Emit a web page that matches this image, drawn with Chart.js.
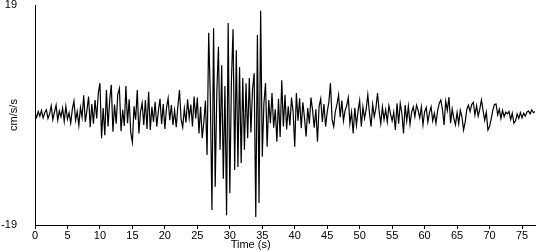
<!DOCTYPE html>
<html>
<head>
<meta charset="utf-8">
<script src="https://cdn.jsdelivr.net/npm/chart.js@4.4.1/dist/chart.umd.min.js"></script>
<style>
  html, body { margin: 0; padding: 0; background: #fff; }
  canvas { display: block; }
</style>
</head>
<body>
<canvas id="quake" width="550" height="250"></canvas>
<script>
// sample step of the record, seconds
const dt = 0.25;
const xTicks = [0, 5, 10, 15, 20, 25, 30, 35, 40, 45, 50, 55, 60, 65, 70, 75];
const yTicks = [-19, 19];
// acceleration, cm/s/s (4 samples per second)
const accel = [
    0.3, -0.4, 0.6, -0.2,   0.8, -0.5, 0.4, 0.9,
    -0.6, 0.2, 1.6, -0.8,   0.5, 1.7, -0.9, 0.7,
    -0.3, 1.2, -1.1, 1.5,   -0.7, 0.4, -1.4, 1.0,
    2.4, -0.9, 0.6, -1.8,   1.3, -0.4, 3.4, -1.2,
    0.8, 3.2, -2.1, 1.9,    -1.5, 2.6, -0.6, 3.8,
    5.5, -4.0, 1.2, -3.5,   4.3, -2.0, 2.5, 5.2,
    -2.9, 1.8, -1.5, 3.6,   4.6, -2.8, 0.9, -1.9,
    5.0, -1.4, 2.7, -3.1,   -4.7, 1.5, -0.8, 4.3,
    -3.2, 0.6, 2.1, -1.7,   2.6, -2.4, 4.0, -2.6,
    1.4, -1.2, 2.3, -2.0,   0.7, 2.8, -1.6, 1.9,
    -2.4, 1.2, 2.9, -0.9,   1.7, -1.7, 0.8, -2.1,
    1.5, 4.3, -0.7, -2.1,   1.1, -1.3, 2.7, -0.5,
    1.8, -2.0, 3.2, -0.6,   3.0, -3.2, 1.4, -4.0,
    // strong motion, 26 s - 37 s
    -1.2, 2.5, -6.9, 14.2,  3.0, -16.4, 15.0, -12.4,
    4.0, 11.8, -6.0, 8.6,   -11.0, 5.0, -17.3, 15.9,
    -13.5, 6.0, 14.8, -9.5, 11.2, -9.0, 8.3, -8.3,
    6.4, -6.0, 5.5, -4.0,   6.4, -3.0, 4.5, 7.2,
    -17.6, 13.8, -15.2, 18.0, -7.2, 2.0, 5.5, -5.5,
    2.6, -1.4, 3.8, -2.2,
    1.0, -4.6, 2.8, -3.8,   6.0, -2.0, 3.5, -2.5,
    1.5, -1.8, 3.0, 0.5,    -5.5, 3.8, -1.0, 2.9,
    -2.3, 2.2, -0.5, -3.7,  1.2, -1.5, 3.0, 0.8,
    -2.2, 1.0, -4.6, 1.5,   2.8, -1.2, 1.9, -2.0,
    0.5, 2.2, 5.5, -0.8,    -2.0, 0.6, 1.8, 3.5,
    -0.4, 2.5, -1.0, 0.8,   1.6, 3.0, -1.5, 0.5,
    -3.2, 1.2, -1.8, 0.7,   2.5, -2.0, 1.4, -0.6,
    1.0, 3.5, 0.4, -2.0,    1.8, -0.3, 1.2, 3.8,
    0.6, -1.5, 1.4, -0.8,   0.9, -1.2, 1.6, 0.2,
    -1.0, 0.5, -2.6, 2.0,   -1.5, 2.0, 0.3, -3.2,
    1.7, -1.0, 1.5, -1.6,   0.5, 1.4, -0.3, 1.7,
    0.8, -0.5, 1.4, -1.7,   0.6, 1.3, -1.2, 0.4,
    1.4, -1.0, 0.3, -1.4,   0.7, 2.0, 2.6, 0.9,
    -1.7, 2.4, 0.8, 3.1,    -1.4, 1.0, -0.6, -1.7,
    0.4, -1.5, 0.8, -0.3,   -2.6, -1.2, 1.0, 1.7,
    0.6, 1.8, 2.2, 0.0,     1.6, -0.2, 1.0, 2.6,
    0.8, -0.9, 0.5, -2.6,   -2.0, -0.7, 0.8, 1.8,
    1.9, 0.0, 1.0, -0.6,    0.8, -0.3, 0.5, 0.2,
    0.6, -0.8, 0.3, -1.4,   -1.0, 0.2, -0.6, 0.4,
    -0.5, 0.3, -0.2, 0.5,   0.7, 0.2, 0.9, 0.4,
    0.6
];

const font = { family: '"Liberation Sans", Arial, sans-serif', size: 11 };

// x title sits left of centre in the original, draw it by hand
const timeTitle = {
    id: 'timeTitle',
    afterDraw(chart) {
        const ctx = chart.ctx;
        const x = chart.scales.x.getPixelForValue(33.2);
        ctx.save();
        ctx.font = '11px "Liberation Sans", Arial, sans-serif';
        ctx.fillStyle = '#000';
        ctx.textAlign = 'center';
        ctx.textBaseline = 'middle';
        ctx.fillText('Time (s)', x, 245);
        ctx.restore();
    }
};

new Chart(document.getElementById('quake'), {
    type: 'line',
    data: {
        datasets: [{
            data: accel.map((v, i) => ({ x: i * dt, y: v })),
            borderColor: '#000',
            borderWidth: 1.2,
            pointRadius: 0,
            tension: 0,
            fill: false
        }]
    },
    options: {
        responsive: false,
        animation: false,
        devicePixelRatio: 1,
        layout: { padding: { top: 5, right: 15, left: 0, bottom: 0 } },
        plugins: { legend: { display: false }, tooltip: { enabled: false } },
        scales: {
            x: {
                type: 'linear',
                min: 0,
                max: 77,
                afterBuildTicks: s => { s.ticks = xTicks.map(v => ({ value: v })); },
                afterFit: s => { s.height = 25; },
                ticks: { color: '#000', font: font, padding: 0, maxRotation: 0, autoSkip: false },
                grid: { drawOnChartArea: false, drawTicks: true, tickLength: 4, color: '#000' },
                border: { color: '#000', width: 1 }
            },
            y: {
                min: -19,
                max: 19,
                afterBuildTicks: s => { s.ticks = yTicks.map(v => ({ value: v })); },
                // labels sit far from the axis, but must not push the plot down
                afterFit: s => { s.width = 35; s.paddingTop = 5; s.paddingBottom = 5; },
                ticks: { color: '#000', font: font, padding: 18 },
                grid: { drawOnChartArea: false, drawTicks: false },
                border: { color: '#000', width: 1 },
                title: { display: true, text: 'cm/s/s', color: '#000', font: font, padding: { top: 7, bottom: 0 } }
            }
        }
    },
    plugins: [timeTitle]
});
</script>
</body>
</html>
